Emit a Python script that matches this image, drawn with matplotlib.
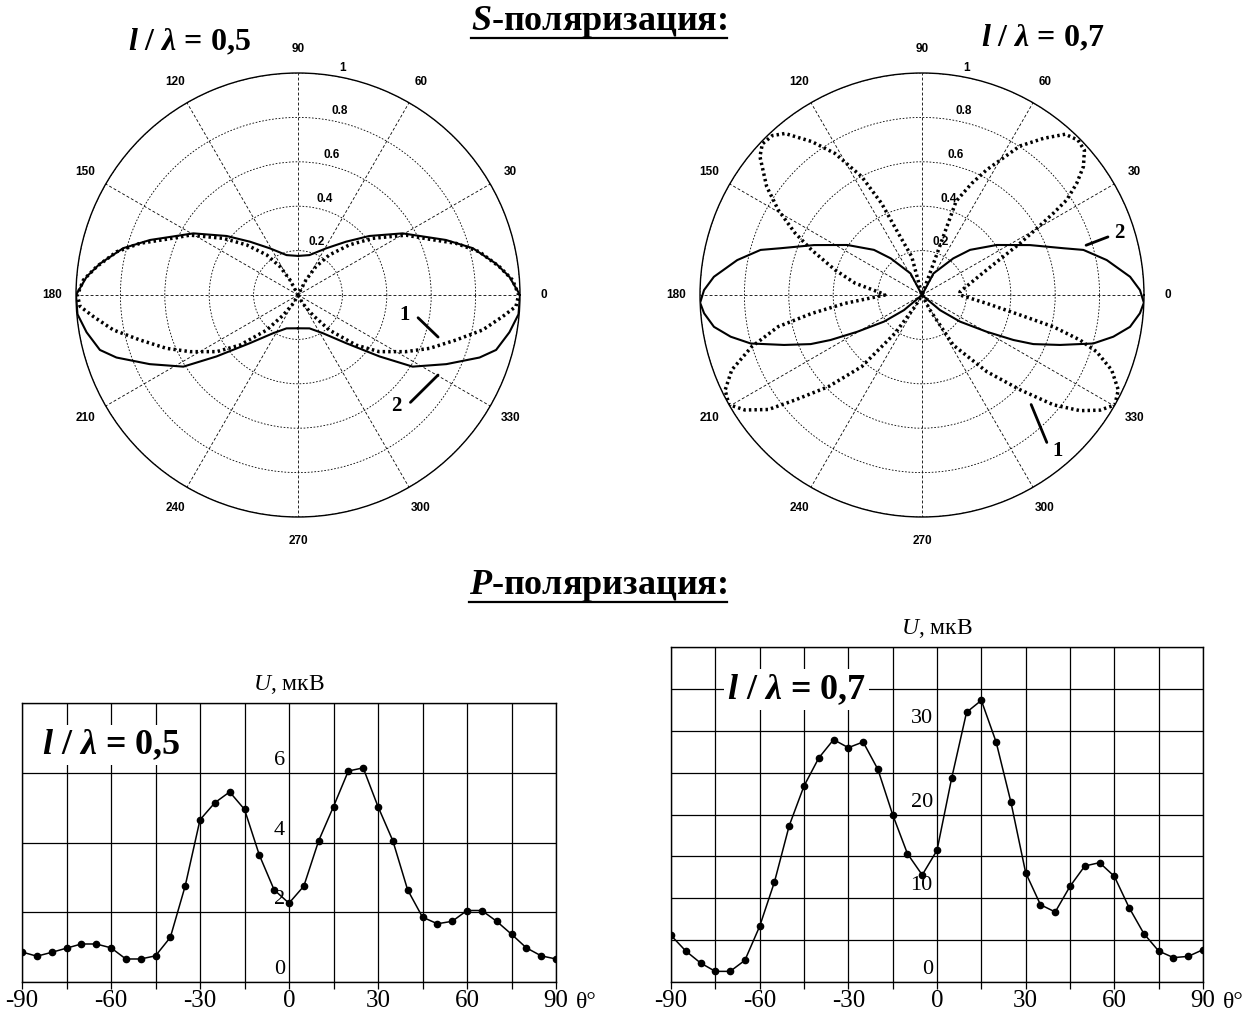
import numpy as np
import matplotlib
matplotlib.use("Agg")
import matplotlib.pyplot as plt
from matplotlib.lines import Line2D

plt.rcParams["font.family"] = ["Liberation Serif", "DejaVu Serif"]
plt.rcParams["mathtext.fontset"] = "custom"
plt.rcParams["mathtext.rm"] = "Liberation Serif"
plt.rcParams["mathtext.it"] = "Liberation Serif:italic"
plt.rcParams["mathtext.bf"] = "Liberation Serif:bold"
plt.rcParams["mathtext.bfit"] = "Liberation Serif:italic:bold"

# ---- S-polarization, l/lambda = 0.5 (right half, mirrored to the left) ----
s05_c1_th = [-90, -65, -61, -53.7, -48.2, -40.8, -34.9, -27.7, -22.1, -15.9, -10.7, -6, -3, 0,
             4, 8, 13.4, 18.1, 23, 29, 37.2, 44.3, 52, 57.7, 62, 66, 90]
s05_c1_r = [0, 0, 0.043, 0.112, 0.212, 0.345, 0.446, 0.549, 0.639, 0.74, 0.847, 0.927, 0.983, 0.994,
            0.969, 0.916, 0.84, 0.749, 0.643, 0.556, 0.422, 0.323, 0.229, 0.151, 0.077, 0, 0]
s05_c2_th = [-90, -71, -57, -45, -37, -32, -25, -19, -15.5, -10, -5, 0,
             5, 9, 15, 20.4, 30.5, 39.6, 48, 59, 74, 90]
s05_c2_r = [0.15, 0.159, 0.205, 0.307, 0.46, 0.609, 0.737, 0.865, 0.926, 0.967, 0.997, 1.0,
            0.955, 0.903, 0.815, 0.711, 0.547, 0.417, 0.323, 0.245, 0.187, 0.176]

# ---- S-polarization, l/lambda = 0.7 ----
s07_c1_th = [-90, -66, -62, -58, -49.8, -44, -39.9, -36.2, -32.9, -29.7, -25.8, -21.6, -18, -15.9,
             -13.6, -11.5, -7.4, 0, 5, 21.2, 27.8, 30.1, 31.9, 33.3, 35.8, 38.5, 41.7, 44.8, 48.3,
             52.2, 56.7, 62.7, 66, 70, 72, 90,
             100, 105, 111, 113.8, 117, 121.6, 125.7, 130.3, 133.2, 136.6, 139.5, 145.1, 149.4,
             154, 157.8, 163.9, 170, 177.5, 180,
             186.2, 189.5, 192.4, 196.9, 201.5, 205.8, 209.6, 213, 216.7, 219.6, 224.4, 229.9,
             234.8, 238.6, 242, 270]
s07_c1_r = [0, 0, 0.077, 0.266, 0.452, 0.615, 0.771, 0.882, 0.955, 1.0, 0.982, 0.919, 0.827, 0.74,
            0.609, 0.45, 0.294, 0.171, 0.172, 0.312, 0.499, 0.597, 0.697, 0.78, 0.859, 0.929, 0.98,
            0.99, 0.97, 0.893, 0.803, 0.634, 0.55, 0.45, 0.0, 0,
            0.0, 0.179, 0.298, 0.451, 0.598, 0.749, 0.851, 0.954, 0.985, 0.99, 0.96, 0.853, 0.752,
            0.636, 0.537, 0.408, 0.306, 0.182, 0.167,
            0.349, 0.504, 0.663, 0.802, 0.921, 0.985, 1.0, 0.951, 0.863, 0.742, 0.59, 0.422,
            0.211, 0.061, 0, 0]
s07_c2_th = [-90, -48, -40, -35, -29.6, -26.2, -23.8, -19.9, -15.8, -12.3, -8.7, -4.8, -2,
             1.3, 5, 10.7, 15.6, 18.3, 24.8, 33.8, 43.2, 49.5, 62, 68, 90]
s07_c2_r = [0, 0, 0.106, 0.209, 0.335, 0.459, 0.548, 0.661, 0.802, 0.882, 0.948, 0.985, 1.0,
            0.982, 0.941, 0.847, 0.755, 0.671, 0.536, 0.405, 0.297, 0.217, 0.11, 0, 0]

angle_ticks = list(range(0, 360, 30))
r_ticks = [0.2, 0.4, 0.6, 0.8, 1.0]
r_labels = ["0.2", "0.4", "0.6", "0.8", "1"]

# ---- P-polarization ----
theta_deg = list(range(-90, 95, 5))
u_05 = [0.86, 0.74, 0.85, 0.97, 1.09, 1.09, 0.98, 0.66, 0.66, 0.75, 1.28, 2.75, 4.65, 5.14,
        5.45, 4.95, 3.64, 2.64, 2.26, 2.75, 4.05, 5.03, 6.05, 6.14, 5.03, 4.05, 2.64, 1.86,
        1.67, 1.74, 2.05, 2.05, 1.74, 1.37, 0.98, 0.75, 0.66]
u_07 = [5.57, 3.70, 2.27, 1.27, 1.27, 2.59, 6.65, 11.94, 18.67, 23.40, 26.75, 28.94, 27.98,
        28.66, 25.39, 19.98, 15.32, 12.78, 15.72, 24.40, 32.20, 33.63, 28.66, 21.49, 13.05,
        9.23, 8.36, 11.42, 13.85, 14.25, 12.62, 8.88, 5.77, 3.70, 2.91, 3.06, 3.86]
x_labels = [-90, -60, -30, 0, 30, 60, 90]

note_05 = r"$\mathbfit{l}$ / $\mathbfit{λ}$ = 0,5"
note_07 = r"$\mathbfit{l}$ / $\mathbfit{λ}$ = 0,7"


def mirror(th, r):
    th = np.asarray(th, float)
    r = np.asarray(r, float)
    return (np.concatenate([th, 180 - th[::-1][1:]]),
            np.concatenate([r, r[::-1][1:]]))


fig = plt.figure(figsize=(12.52, 10.18), dpi=100)

solid = dict(color="k", lw=1.5, ls="-")
dotted = dict(color="k", lw=2.5, ls=(0, (0.7, 0.9)))
lab_font = dict(family="Liberation Sans", fontweight="bold", fontsize=8.5)


def polar_panel(rect, curves, notes):
    ax = fig.add_axes(rect, projection="polar")
    for th, r, st in curves:
        ax.plot(np.deg2rad(th), r, **st)
    ax.set_ylim(0, 1)
    ax.set_xticks(np.deg2rad(angle_ticks))
    ax.set_xticklabels([str(a) for a in angle_ticks], **lab_font)
    ax.set_yticks(r_ticks)
    ax.set_yticklabels([])
    ax.xaxis.grid(True, color="k", lw=0.6, ls=(0, (3.5, 2.5)))
    ax.yaxis.grid(True, color="k", lw=0.6, ls=(0, (2, 2)))
    ax.tick_params(axis="x", pad=10, length=0)
    ax.tick_params(axis="y", length=0)
    ax.spines["polar"].set_linewidth(1.0)
    for rv, lab in zip(r_ticks, r_labels):
        ax.annotate(lab, xy=(np.deg2rad(80), rv), xytext=(2, 2), textcoords="offset points",
                    ha="left", va="bottom", **lab_font)
    for txt, (t0, r0), (t1, r1), (tt, rt) in notes:
        ax.annotate("", xy=(np.deg2rad(t1), r1), xytext=(np.deg2rad(t0), r0),
                    arrowprops=dict(arrowstyle="-", lw=2.0, color="k"))
        ax.text(np.deg2rad(tt), rt, txt, ha="center", va="center", fontsize=15,
                fontweight="bold")
    return ax


c1 = mirror(s05_c1_th, s05_c1_r)
c2 = mirror(s05_c2_th, s05_c2_r)
polar_panel([76 / 1252, 1 - 517 / 1018, 444 / 1252, 444 / 1018],
            [(c1[0], c1[1], dotted), (c2[0], c2[1], solid)],
            [("1", (-10, 0.54), (-17.2, 0.67), (-10.5, 0.49)),
             ("2", (-44.7, 0.70), (-28.8, 0.73), (-48.5, 0.665))])

c2 = mirror(s07_c2_th, s07_c2_r)
polar_panel([700 / 1252, 1 - 517 / 1018, 444 / 1252, 444 / 1018],
            [(s07_c1_th, s07_c1_r, dotted), (c2[0], c2[1], solid)],
            [("2", (16.8, 0.76), (17.4, 0.89), (17.5, 0.93)),
             ("1", (-44.7, 0.685), (-50, 0.882), (-49, 0.93))])


def line_panel(rect, y, ymax, ystep, ylabels, note, note_xy):
    ax = fig.add_axes(rect)
    ax.plot(theta_deg, y, color="k", lw=1.1, marker="o", ms=4.5, zorder=3)
    ax.set_xlim(-90, 90)
    ax.set_ylim(0, ymax)
    ax.set_xticks(x_labels)
    ax.set_xticklabels([str(v) for v in x_labels])
    ax.set_xticks(range(-75, 90, 30), minor=True)
    ax.set_yticks(np.arange(0, ymax + 0.01, ystep))
    ax.grid(True, which="both", axis="x", color="k", lw=0.9)
    ax.grid(True, axis="y", color="k", lw=0.9)
    ax.tick_params(axis="x", which="both", direction="out", length=5, width=0.9,
                   labelsize=18, pad=1)
    ax.tick_params(axis="y", length=0, labelleft=False)
    for s in ax.spines.values():
        s.set_linewidth(1.0)
    for v in ylabels:
        ax.annotate(str(v), xy=(0, v), xytext=(-3, 2), textcoords="offset points",
                    ha="right", va="bottom", fontsize=16, zorder=4)
    ax.annotate("θ°", xy=(1, 0), xycoords="axes fraction", xytext=(22, -15),
                textcoords="offset points", ha="center", va="center", fontsize=17)
    ax.annotate("$\\mathit{U}$, мкВ", xy=(0, 1), xycoords=ax.get_xaxis_transform(),
                xytext=(0, 5), textcoords="offset points", ha="center", va="bottom",
                fontsize=17)
    ax.text(note_xy[0], note_xy[1], note, ha="center", va="center",
            fontsize=26, fontweight="bold", zorder=5,
            bbox=dict(facecolor="white", edgecolor="none", pad=2))
    return ax


line_panel([22 / 1252, 1 - 982 / 1018, 534 / 1252, 279 / 1018], u_05, 8, 2, [0, 2, 4, 6],
           note_05, (-60, 6.8))
line_panel([671 / 1252, 1 - 982 / 1018, 532 / 1252, 335 / 1018], u_07, 40, 5, [0, 10, 20, 30],
           note_07, (-47.5, 34.9))

fig.text(189 / 1252, 1 - 42 / 1018, note_05, ha="center", va="center", fontsize=23,
         fontweight="bold")
fig.text(1043 / 1252, 1 - 38 / 1018, note_07, ha="center", va="center", fontsize=23,
         fontweight="bold")

t1 = fig.text(599 / 1252, 1 - 22 / 1018, r"$\mathbfit{S}$-поляризация:", ha="center",
              va="center", fontsize=26, fontweight="bold")
t2 = fig.text(598 / 1252, 1 - 586 / 1018, r"$\mathbfit{P}$-поляризация:", ha="center",
              va="center", fontsize=26, fontweight="bold")

fig.canvas.draw()
for t in (t1, t2):
    bb = t.get_window_extent().transformed(fig.transFigure.inverted())
    yline = bb.y0 + 2.0 / 1018
    fig.add_artist(Line2D([bb.x0, bb.x1], [yline, yline], transform=fig.transFigure,
                          color="k", lw=1.6))

fig.savefig("out.png", dpi=100)
